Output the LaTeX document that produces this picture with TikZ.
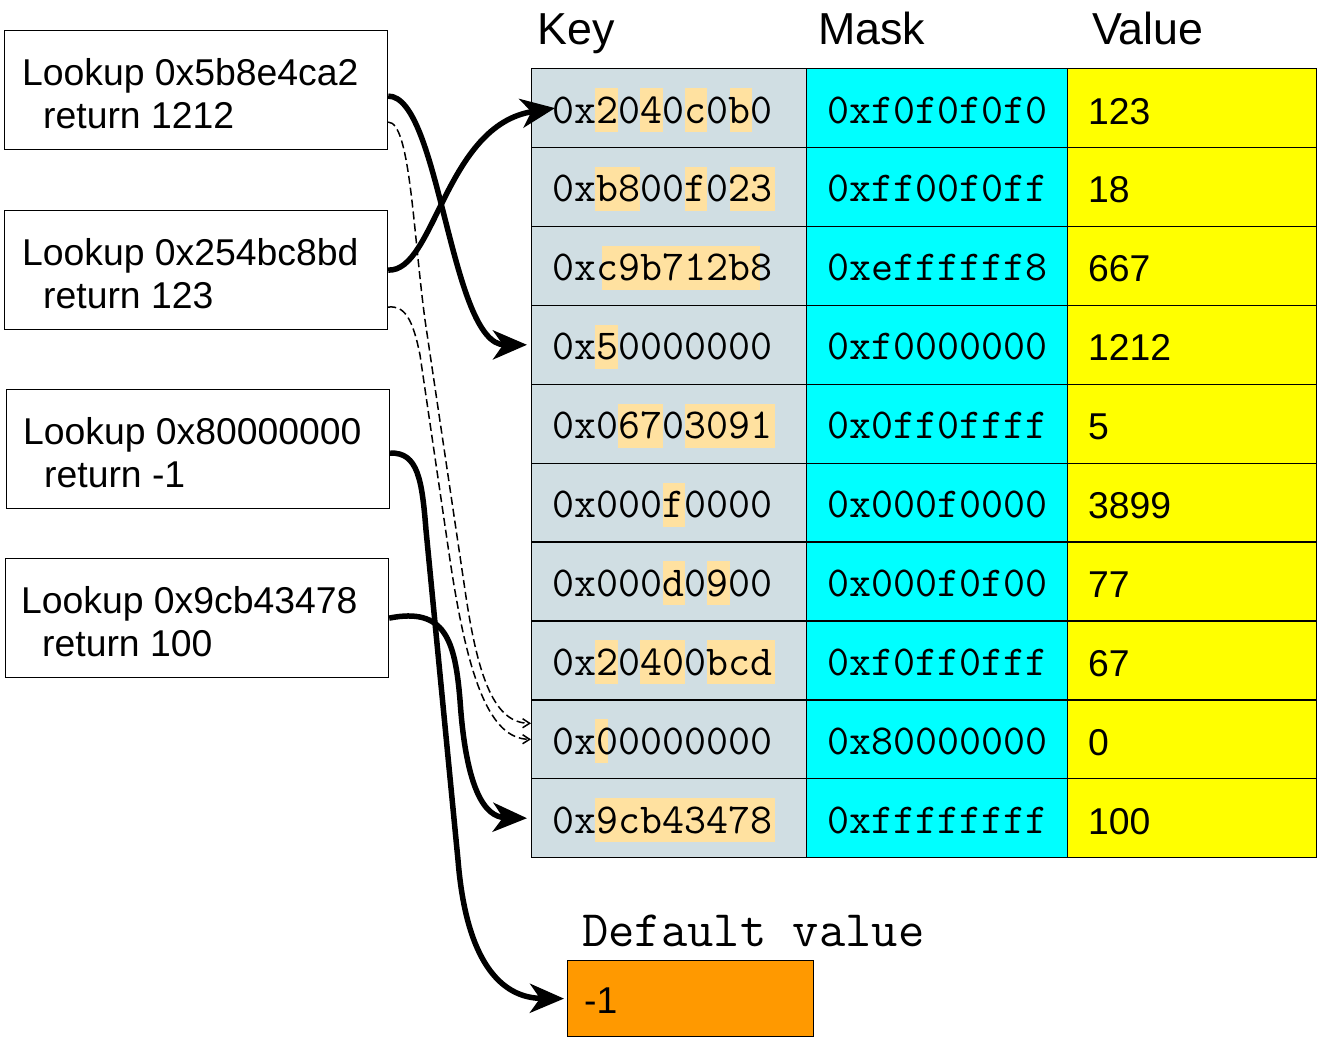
\documentclass[tikz,border=0pt]{standalone}
\usepackage{fontspec}
\setmainfont{Liberation Sans}
\usetikzlibrary{arrows.meta}
\definecolor{keyfill}{RGB}{208,222,227}
\definecolor{hlfill}{RGB}{255,225,160}
\definecolor{maskfill}{RGB}{0,255,255}
\definecolor{valfill}{RGB}{255,255,0}
\definecolor{deffill}{RGB}{255,153,0}
\begin{document}
\begin{tikzpicture}[x=1pt,y=-1pt,
  lookupbox/.style={draw=black, line width=1.2pt, minimum width=383pt, minimum height=119pt, inner sep=0pt, anchor=north west},
  cellbase/.style={draw=black, line width=1.3pt, minimum height=78.9pt, inner sep=0pt, anchor=north west},
  keycell/.style={cellbase, fill=keyfill, minimum width=275pt},
  maskcell/.style={cellbase, fill=maskfill, minimum width=261pt},
  valcell/.style={cellbase, fill=valfill, minimum width=249pt},
  sanstxt/.style={font=\fontsize{37.33}{40}\selectfont, inner sep=0pt, anchor=base west},
  monotxt/.style={font=\ttfamily\fontsize{42.67}{46}\selectfont, inner sep=0pt, anchor=base west},
  headtxt/.style={font=\fontsize{44.8}{48}\selectfont, inner sep=0pt, anchor=base west},
  hl/.style={fill=hlfill},
  thickarrow/.style={line width=5.5pt, -{Stealth[length=34pt, width=29pt, inset=10pt]}},
  dasharrow/.style={line width=1.5pt, dash pattern=on 8pt off 4pt, -{Straight Barb[length=7pt, width=9pt]}}
]
\useasboundingbox (0,0) rectangle (1329,1044);

% lookup boxes
\node[lookupbox] (b1) at (4,30) {};
\node[lookupbox] (b2) at (4,210) {};
\node[lookupbox] (b3) at (6,389) {};
\node[lookupbox] (b4) at (5,558) {};
\node[sanstxt] (b1a) at (22,85) {Lookup 0x5b8e4ca2};
\node[sanstxt] (b1b) at (43,128) {return 1212};
\node[sanstxt] (b2a) at (22,265) {Lookup 0x254bc8bd};
\node[sanstxt] (b2b) at (43,308) {return 123};
\node[sanstxt] (b3a) at (23,444) {Lookup 0x80000000};
\node[sanstxt] (b3b) at (44,487) {return -1};
\node[sanstxt] (b4a) at (21,613) {Lookup 0x9cb43478};
\node[sanstxt] (b4b) at (42,656) {return 100};

% headers
\node[headtxt] (hk) at (537.5,44) {Key};
\node[headtxt] (hm) at (818,44) {Mask};
\node[headtxt] (hv) at (1092,44) {Value};

% cells
\foreach \i in {1,...,10} {
  \pgfmathsetmacro\rt{68+78.9*(\i-1)}
  \node[keycell] (k\i) at (531,\rt) {};
  \node[maskcell] (m\i) at (806,\rt) {};
  \node[valcell] (v\i) at (1067,\rt) {};
}

% highlights
\foreach \r/\a/\b in {1/595.4/617.8, 1/640.2/662.6, 1/685.0/707.4, 1/729.8/752.2,
  2/595.4/640.2, 2/685.0/707.4, 2/729.8/774.6,
  3/602/760,
  4/595.4/617.8,
  5/617.8/662.6, 5/685.0/774.6,
  6/662.6/685.0,
  7/662.6/685.0, 7/707.4/729.8,
  8/595.4/617.8, 8/640.2/685.0, 8/707.4/774.6,
  9/595.4/608,
  10/595.4/774.6} {
  \pgfmathsetmacro\rt{68+78.9*(\r-1)}
  \fill[hl] (\a,\rt+20) rectangle (\b,\rt+64);
}

% texts
\foreach \i/\k/\m/\v in {1/0x2040c0b0/0xf0f0f0f0/123, 2/0xb800f023/0xff00f0ff/18,
  3/0xc9b712b8/0xeffffff8/667, 4/0x50000000/0xf0000000/1212,
  5/0x06703091/0x0ff0ffff/5, 6/0x000f0000/0x000f0000/3899,
  7/0x000d0900/0x000f0f00/77, 8/0x20400bcd/0xf0ff0fff/67,
  9/0x00000000/0x80000000/0, 10/0x9cb43478/0xffffffff/100} {
  \pgfmathsetmacro\rt{68+78.9*(\i-1)}
  \node[monotxt] (kt\i) at (552.2,\rt+55) {\k};
  \node[monotxt] (mt\i) at (827.2,\rt+55) {\m};
  \node[sanstxt] (vt\i) at (1088,\rt+56) {\v};
}

% default value
\node[font=\ttfamily\fontsize{51.1}{54}\selectfont, inner sep=0pt, anchor=base west] (dl) at (582,946) {Default value};
\node[draw=black, line width=1.2pt, fill=deffill, minimum width=246pt, minimum height=76pt, inner sep=0pt, anchor=north west] (def) at (567,960) {};
\node[sanstxt] (dv) at (584,1013) {-1};

% connectors
\draw[thickarrow] ([yshift=-6pt]b1.east) .. controls (440,96) and (450,345) .. ([xshift=-4pt]k4.west);
\draw[thickarrow] (b2.east) .. controls (435,272) and (445,125) .. ([xshift=24pt]k1.west);
\draw[thickarrow] ([yshift=-4pt]b3.east) .. controls (418,452) and (422,480) .. (426,530) -- (458,860) .. controls (466,960) and (500,998) .. ([xshift=-3pt]def.west);
\draw[thickarrow] (b4.east) .. controls (445,607) and (455,640) .. (460,700) .. controls (466,790) and (485,817) .. ([xshift=-4pt]k10.west);
\draw[dasharrow] ([yshift=-32pt]b1.east) .. controls (410,122) and (413,230) .. (425,320) -- (465,590) .. controls (478,680) and (495,723) .. ([yshift=16pt]k9.west);
\draw[dasharrow] ([yshift=-37pt]b2.east) .. controls (405,305) and (413,320) .. (420,355) -- (450,560) .. controls (468,680) and (490,739) .. (k9.west);
\end{tikzpicture}
\end{document}
